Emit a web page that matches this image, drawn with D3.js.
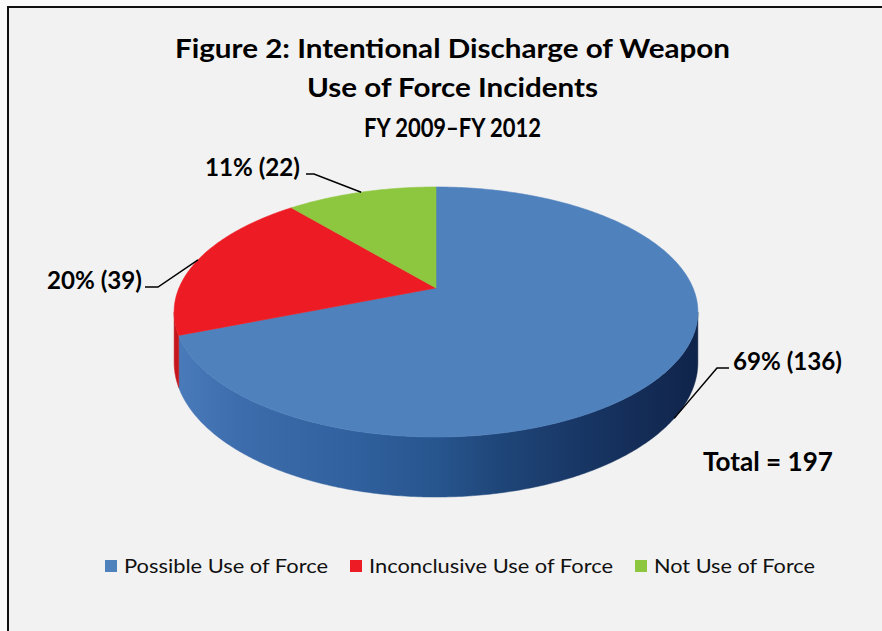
<!DOCTYPE html>
<html><head><meta charset="utf-8">
<script src="https://cdn.jsdelivr.net/npm/d3@7"></script>
<style>html,body{margin:0;padding:0;background:#fff;overflow:hidden}</style>
</head><body><svg id="c" width="882" height="631"></svg>
<script>
// ---- data ----
const categories = ["Possible Use of Force", "Inconclusive Use of Force", "Not Use of Force"];
const values = [136, 39, 22];
const colors = ["#4f81bd", "#ed1c24", "#8dc63f"];
const sideColors = ["#2c5a94", "#b3151b", "#6f9e2c"];
const titleLines = ["Figure 2: Intentional Discharge of Weapon", "Use of Force Incidents", "FY 2009\u2013FY 2012"];
const totalText = "Total = " + d3.sum(values);

// ---- layout ----
const W = 882, H = 631;
const svg = d3.select("#c");
const FONT = "Lato, 'Open Sans', 'DejaVu Sans', sans-serif";

svg.append("rect").attr("width", W).attr("height", H).attr("fill", "#fbfbfb");
svg.append("rect").attr("x", 8).attr("y", 6).attr("width", W - 8).attr("height", H - 6).attr("fill", "#f2f2f2");
svg.append("line").attr("x1", 7).attr("x2", W).attr("y1", 7).attr("y2", 7).attr("stroke", "#111").attr("stroke-width", 2);
svg.append("line").attr("x1", 8).attr("x2", 8).attr("y1", 6).attr("y2", H).attr("stroke", "#111").attr("stroke-width", 2);

function fit(t, w) { t.attr("textLength", w).attr("lengthAdjust", "spacingAndGlyphs"); return t; }

// title
const titleLayout = [{x: 175, w: 555, y: 58}, {x: 307, w: 291, y: 97}, {x: 364, w: 177, y: 137}];
titleLines.forEach((s, i) => {
  const L = titleLayout[i];
  fit(svg.append("text").attr("x", L.x).attr("y", L.y)
    .attr("font-family", FONT).attr("font-weight", "bold").attr("font-size", 27)
    .attr("fill", "#000").text(s), L.w);
});

// ---- 3D pie projection ----
const cx = 436, cy = 288, A = 257, B = 120.4, P = 0.192, DEPTH = 48.5;
function proj(theta, dz) {
  const u = Math.sin(theta), v = Math.cos(theta), w = 1 + P * v;
  return [cx + A * u / w, cy - B * v / w + (dz || 0) / w];
}
const pie = d3.pie().sort(null).value(d => d)(values);
const line = d3.line();
const thL = Math.acos(-P), thR = 2 * Math.PI - Math.acos(-P);

function arcPts(a0, a1, dz) {
  const n = Math.max(4, Math.ceil((a1 - a0) / 0.01));
  return d3.range(n + 1).map(i => proj(a0 + (a1 - a0) * i / n, dz));
}

// side gradient
const defs = svg.append("defs");
const g0 = defs.append("linearGradient").attr("id", "gBlue").attr("gradientUnits", "userSpaceOnUse")
  .attr("x1", cx - 262).attr("x2", cx + 262).attr("y1", 0).attr("y2", 0);
[[0, "#4a7bbb"], [0.12, "#3d6dac"], [0.35, "#30609d"], [0.5, "#27558e"], [0.62, "#1f4679"], [0.8, "#173462"], [1, "#10244a"]]
  .forEach(s => g0.append("stop").attr("offset", s[0]).attr("stop-color", s[1]));
const g1 = defs.append("linearGradient").attr("id", "gRed").attr("gradientUnits", "userSpaceOnUse")
  .attr("x1", cx - 262).attr("x2", cx - 200).attr("y1", 0).attr("y2", 0);
[[0, "#c8161d"], [1, "#a01117"]].forEach(s => g1.append("stop").attr("offset", s[0]).attr("stop-color", s[1]));
const sideFill = ["url(#gBlue)", "url(#gRed)", sideColors[2]];

// sides
pie.forEach((d, i) => {
  const a0 = Math.max(d.startAngle, thL), a1 = Math.min(d.endAngle, thR);
  if (a1 <= a0) return;
  const pts = arcPts(a0, a1, 0).concat(arcPts(a0, a1, DEPTH).reverse());
  svg.append("path").attr("d", line(pts) + "Z").attr("fill", sideFill[i])
    .attr("stroke", sideFill[i]).attr("stroke-width", 0.5);
});

// top faces
pie.forEach((d, i) => {
  const pts = [[cx, cy]].concat(arcPts(d.startAngle, d.endAngle, 0));
  svg.append("path").attr("d", line(pts) + "Z").attr("fill", colors[i])
    .attr("stroke", colors[i]).attr("stroke-width", 0.6);
});

// data labels with leader lines
const fmt = d3.format(".0%");
const total = d3.sum(values);
const labelLayout = [
  {tx: 733, tw: 109, ty: 370, elbow: [[729, 368], [717, 368]], dz: DEPTH},
  {tx: 47, tw: 95, ty: 289, elbow: [[145, 287], [158, 287]], dz: 0},
  {tx: 205, tw: 95, ty: 176, elbow: [[306, 174], [314, 174]], dz: 0}
];
pie.forEach((d, i) => {
  const L = labelLayout[i];
  const mid = (d.startAngle + d.endAngle) / 2;
  const end = proj(mid, L.dz);
  svg.append("path").attr("d", line(L.elbow.concat([end]))).attr("fill", "none")
    .attr("stroke", "#000").attr("stroke-width", 1.5);
  fit(svg.append("text").attr("x", L.tx).attr("y", L.ty)
    .attr("font-family", FONT).attr("font-weight", "bold").attr("font-size", 24)
    .attr("fill", "#000").text(fmt(values[i] / total) + " (" + values[i] + ")"), L.tw);
});

fit(svg.append("text").attr("x", 703).attr("y", 471)
  .attr("font-family", FONT).attr("font-weight", "bold").attr("font-size", 26)
  .attr("fill", "#000").text(totalText), 130);

// legend
const legendLayout = [{sx: 105, tx: 124, tw: 204}, {sx: 350, tx: 369, tw: 244}, {sx: 635, tx: 654, tw: 161}];
categories.forEach((c, i) => {
  const L = legendLayout[i];
  svg.append("rect").attr("x", L.sx).attr("y", 560).attr("width", 12).attr("height", 12).attr("fill", colors[i]);
  fit(svg.append("text").attr("x", L.tx).attr("y", 573)
    .attr("font-family", FONT).attr("font-size", 20).attr("fill", "#111").text(c), L.tw);
});
</script>
</body></html>
